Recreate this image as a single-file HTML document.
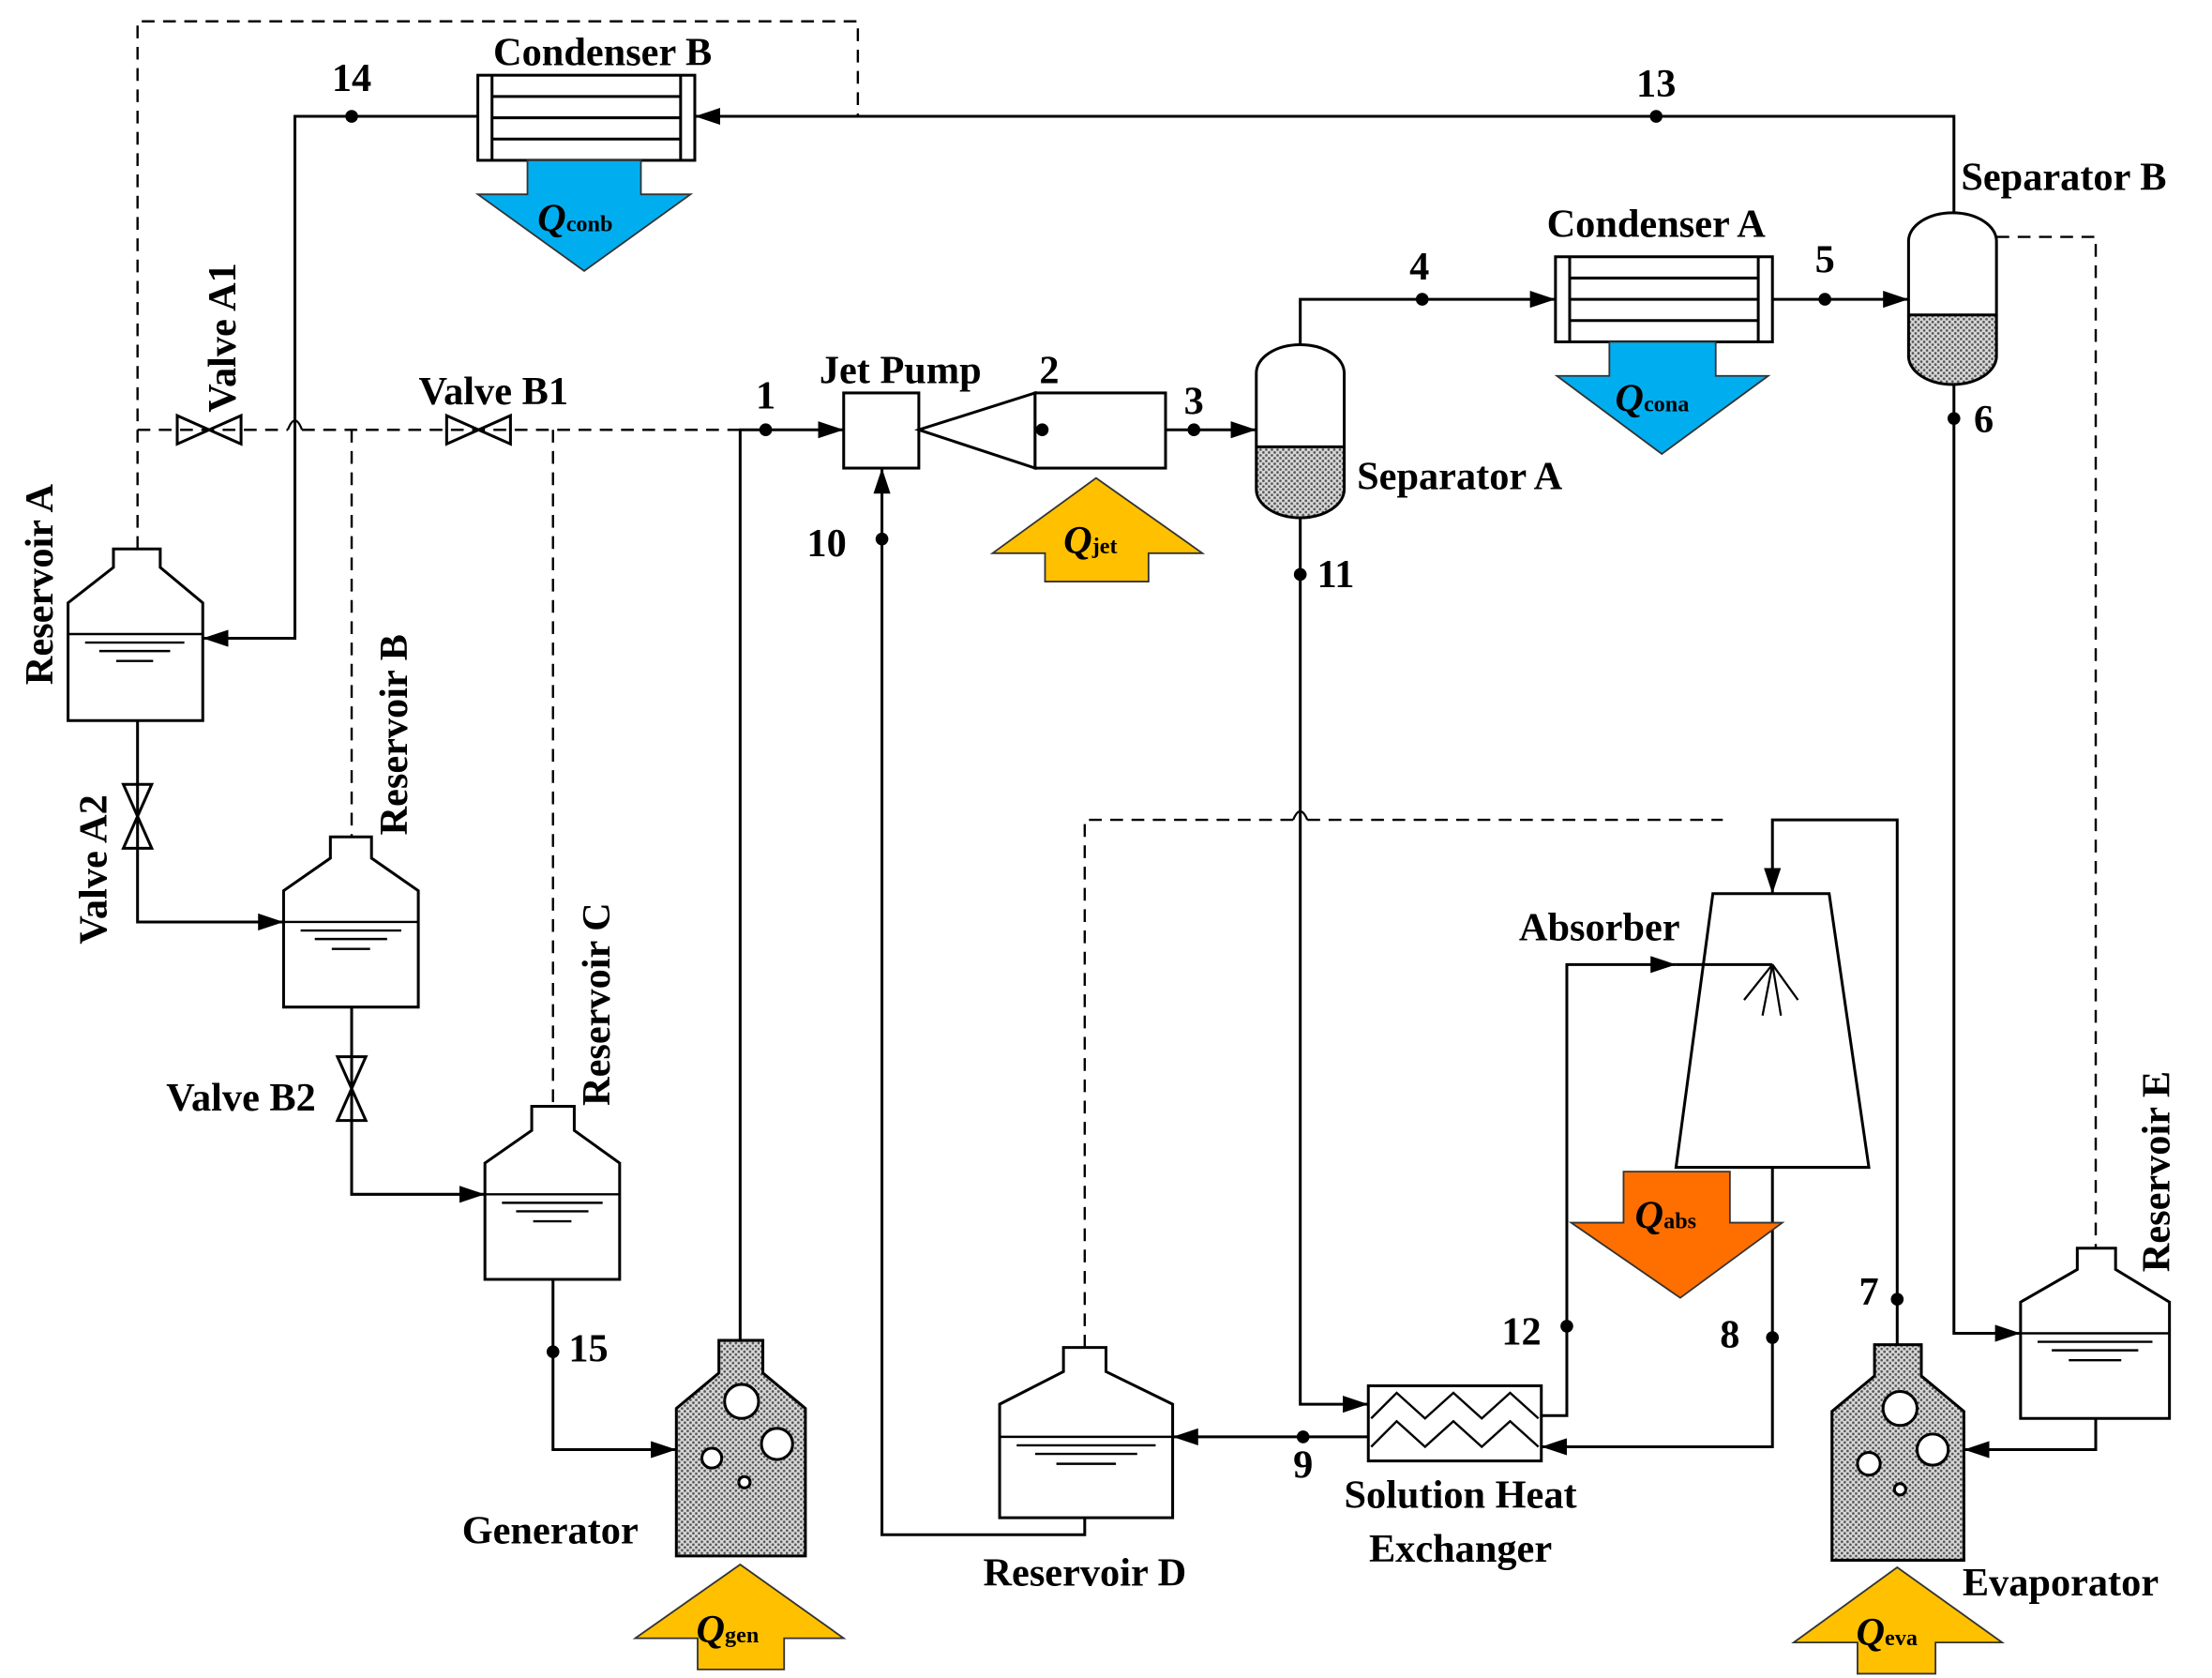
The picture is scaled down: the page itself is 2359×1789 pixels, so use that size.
<!DOCTYPE html>
<html><head><meta charset="utf-8"><style>html,body{margin:0;padding:0;background:#fff}svg{display:block}text{font-family:"Liberation Serif",serif;font-weight:bold;fill:#000}</style></head>
<body>
<svg width="2359" height="1789" viewBox="0 0 1560 1183" xmlns="http://www.w3.org/2000/svg">
<defs>
<pattern id="h" width="4" height="4" patternUnits="userSpaceOnUse"><rect width="4" height="4" fill="#d8d8d8"/><circle cx="1" cy="1" r="0.9" fill="#555"/><circle cx="3" cy="3" r="0.9" fill="#555"/></pattern>
<marker id="a" markerWidth="18" markerHeight="12" refX="18" refY="6" orient="auto" markerUnits="userSpaceOnUse"><path d="M0,0 L18,6 L0,12 Z" fill="#000"/></marker>
</defs>
<g fill="none" stroke="#000" stroke-width="2">
<g stroke-dasharray="9,6" stroke-width="1.6">
<path d="M97,387 V15 H605 V82"/>
<path d="M97,303 H203 M213,303 H522"/>
<path d="M248,303 V590 M390,303 V780"/>
<path d="M765,950 V578 H912 M922,578 H1215"/>
<path d="M1408,167 H1478 V880"/>
</g>
<path d="M203,303 Q208,290 213,303" stroke-width="1.5"/>
<path d="M912,578 Q917,566 922,578" stroke-width="1.5"/>
<path d="M1378,150 V82 H490" marker-end="url(#a)"/>
<path d="M337,82 H208 V450 H143" marker-end="url(#a)"/>
<path d="M522,945 V303 H595" marker-end="url(#a)"/>
<path d="M765,1070 V1082 H622 V330" marker-end="url(#a)"/>
<path d="M822,303 H886" marker-end="url(#a)"/>
<path d="M917,243 V211 H1097" marker-end="url(#a)"/>
<path d="M1250,211 H1346" marker-end="url(#a)"/>
<path d="M1378,271 V940 H1425" marker-end="url(#a)"/>
<path d="M917,365 V990 H965" marker-end="url(#a)"/>
<path d="M965,1013 H827" marker-end="url(#a)"/>
<path d="M1087,998 H1105 V680 H1182" marker-end="url(#a)"/>
<path d="M1250,823 V1020 H1087" marker-end="url(#a)"/>
<path d="M1338,948 V578 H1250 V630" marker-end="url(#a)"/>
<path d="M1478,1000 V1022 H1385" marker-end="url(#a)"/>
<path d="M390,902 V1022 H477" marker-end="url(#a)"/>
<path d="M97,508 V650 H200" marker-end="url(#a)"/>
<path d="M248,710 V842 H342" marker-end="url(#a)"/>
<path d="M125,293 L170,313 V293 L125,313 Z"/>
<path d="M315,293 L360,313 V293 L315,313 Z"/>
<path d="M87,553 L107,598 H87 L107,553 Z"/>
<path d="M238,745 L258,790 H238 L258,745 Z"/>
<rect x="337" y="53" width="153" height="60" fill="#fff"/>
<path d="M347,53 V113 M480,53 V113 M347,68 H480 M347,83 H480 M347,98 H480"/>
<rect x="1097" y="181" width="153" height="60" fill="#fff"/>
<path d="M1107,181 V241 M1240,181 V241 M1107,196 H1240 M1107,211 H1240 M1107,226 H1240"/>
<rect x="595" y="277" width="53" height="53" fill="#fff"/>
<path d="M648,303 L730,277 V330 Z" fill="#fff"/>
<rect x="730" y="277" width="92" height="53" fill="#fff"/>
<path d="M886,315 V345 A31,20 0 0 0 948,345 V315 Z" fill="url(#h)" stroke="none"/>
<path d="M886,263 A31,20 0 0 1 948,263 V345 A31,20 0 0 1 886,345 Z"/>
<path d="M886,315 H948"/>
<path d="M1346,222 V251 A31,20 0 0 0 1408,251 V222 Z" fill="url(#h)" stroke="none"/>
<path d="M1346,170 A31,20 0 0 1 1408,170 V251 A31,20 0 0 1 1346,251 Z"/>
<path d="M1346,222 H1408"/>
<rect x="965" y="977" width="122" height="53" fill="#fff"/>
<path d="M967,1000 L985,982 L1005,1000 L1025,982 L1045,1000 L1065,982 L1085,1000 M967,1020 L985,1002 L1005,1020 L1025,1002 L1045,1020 L1065,1002 L1085,1020" stroke-width="1.6"/>
<path d="M1208,630 H1290 L1318,823 H1182 Z" fill="#fff"/>
<path d="M1182,680 H1250"/>
<path d="M1250,680 L1230,705 M1250,680 L1243,716 M1250,680 L1256,716 M1250,680 L1268,705" stroke-width="1.5"/>
<g fill="#fff">
<path d="M80,387 H113 V400 L143,425 V508 H48 V425 L80,400 Z"/>
<path d="M233,590 H262 V605 L295,628 V710 H200 V628 L233,605 Z"/>
<path d="M375,780 H405 V797 L437,820 V902 H342 V820 L375,797 Z"/>
<path d="M750,950 H780 V967 L827,990 V1070 H705 V990 L750,967 Z"/>
<path d="M1465,880 H1492 V895 L1530,918 V1000 H1425 V918 L1465,895 Z"/>
</g>
<path d="M48,447 H143 M60,453 H130 M70,459 H120 M82,466 H108" stroke-width="1.6"/>
<path d="M200,650 H295 M212,656 H283 M222,662 H273 M234,669 H261" stroke-width="1.6"/>
<path d="M342,842 H437 M354,848 H425 M364,854 H415 M376,861 H403" stroke-width="1.6"/>
<path d="M705,1013 H827 M717,1019 H815 M730,1025 H802 M745,1032 H787" stroke-width="1.6"/>
<path d="M1425,940 H1530 M1437,946 H1518 M1447,952 H1508 M1459,959 H1496" stroke-width="1.6"/>
<path d="M507,945 H538 V968 L568,993 V1097 H477 V993 L507,968 Z" fill="url(#h)"/>
<circle cx="523" cy="988" r="12" fill="#fff"/><circle cx="548" cy="1018" r="11" fill="#fff"/><circle cx="502" cy="1028" r="7" fill="#fff"/><circle cx="525" cy="1045" r="4" fill="#fff"/>
<path d="M1322,948 H1355 V970 L1385,995 V1100 H1292 V995 L1322,970 Z" fill="url(#h)"/>
<circle cx="1340" cy="993" r="12" fill="#fff"/><circle cx="1363" cy="1022" r="11" fill="#fff"/><circle cx="1318" cy="1032" r="8" fill="#fff"/><circle cx="1340" cy="1050" r="4" fill="#fff"/>
</g>
<g fill="#000">
<circle cx="248" cy="82" r="4.5"/><circle cx="1168" cy="82" r="4.5"/><circle cx="540" cy="303" r="4.5"/><circle cx="735" cy="303" r="4.5"/><circle cx="842" cy="303" r="4.5"/><circle cx="622" cy="380" r="4.5"/><circle cx="1003" cy="211" r="4.5"/><circle cx="1287" cy="211" r="4.5"/><circle cx="1378" cy="295" r="4.5"/><circle cx="917" cy="405" r="4.5"/><circle cx="919" cy="1013" r="4.5"/><circle cx="1105" cy="935" r="4.5"/><circle cx="1250" cy="943" r="4.5"/><circle cx="1338" cy="916" r="4.5"/><circle cx="390" cy="953" r="4.5"/>
</g>
<g stroke="#333" stroke-width="1.2">
<path d="M372,113 H452 V137 H487 L412,191 L337,137 H372 Z" fill="#00AEEF"/>
<path d="M1135,241 H1210 V265 H1247 L1172,320 L1098,265 H1135 Z" fill="#00AEEF"/>
<path d="M773,337 L848,390 H810 V410 H737 V390 H700 Z" fill="#FFC000"/>
<path d="M1145,826 H1220 V862 H1257 L1185,915 L1108,862 H1145 Z" fill="#FF6F00"/>
<path d="M522,1103 L595,1155 H553 V1177 H492 V1155 H448 Z" fill="#FFC000"/>
<path d="M1338,1105 L1412,1158 H1365 V1180 H1310 V1158 H1265 Z" fill="#FFC000"/>
</g>
<g font-size="28">
<text x="379" y="163" font-style="italic">Q<tspan font-size="16" font-style="normal">conb</tspan></text>
<text x="1139" y="290" font-style="italic">Q<tspan font-size="16" font-style="normal">cona</tspan></text>
<text x="750" y="390" font-style="italic">Q<tspan font-size="16" font-style="normal">jet</tspan></text>
<text x="1153" y="866" font-style="italic">Q<tspan font-size="16" font-style="normal">abs</tspan></text>
<text x="491" y="1158" font-style="italic">Q<tspan font-size="16" font-style="normal">gen</tspan></text>
<text x="1309" y="1160" font-style="italic">Q<tspan font-size="16" font-style="normal">eva</tspan></text>
</g>
<g font-size="28">
<text x="425" y="46" text-anchor="middle">Condenser B</text>
<text x="248" y="64" text-anchor="middle">14</text>
<text x="1168" y="68" text-anchor="middle">13</text>
<text x="1383" y="134">Separator B</text>
<text x="1168" y="167" text-anchor="middle">Condenser A</text>
<text x="1001" y="197" text-anchor="middle">4</text>
<text x="1287" y="192" text-anchor="middle">5</text>
<text x="1392" y="305">6</text>
<text x="635" y="270" text-anchor="middle">Jet Pump</text>
<text x="740" y="270" text-anchor="middle">2</text>
<text x="842" y="292" text-anchor="middle">3</text>
<text x="540" y="288" text-anchor="middle">1</text>
<text x="348" y="285" text-anchor="middle">Valve B1</text>
<text x="583" y="392" text-anchor="middle">10</text>
<text x="957" y="345">Separator A</text>
<text x="942" y="414" text-anchor="middle">11</text>
<text x="1128" y="663" text-anchor="middle">Absorber</text>
<text x="1073" y="948" text-anchor="middle">12</text>
<text x="1220" y="950" text-anchor="middle">8</text>
<text x="1318" y="920" text-anchor="middle">7</text>
<text x="919" y="1042" text-anchor="middle">9</text>
<text x="1030" y="1063" text-anchor="middle">Solution Heat</text>
<text x="1030" y="1101" text-anchor="middle">Exchanger</text>
<text x="1384" y="1125">Evaporator</text>
<text x="765" y="1118" text-anchor="middle">Reservoir D</text>
<text x="388" y="1088" text-anchor="middle">Generator</text>
<text x="415" y="960" text-anchor="middle">15</text>
<text x="170" y="783" text-anchor="middle">Valve B2</text>
<text transform="translate(37,412) rotate(-90)" text-anchor="middle">Reservoir A</text>
<text transform="translate(166,238) rotate(-90)" text-anchor="middle">Valve A1</text>
<text transform="translate(75,613) rotate(-90)" text-anchor="middle">Valve A2</text>
<text transform="translate(287,518) rotate(-90)" text-anchor="middle">Reservoir B</text>
<text transform="translate(430,708) rotate(-90)" text-anchor="middle">Reservoir C</text>
<text transform="translate(1530,826) rotate(-90)" text-anchor="middle">Reservoir E</text>
</g>
</svg>
</body></html>
